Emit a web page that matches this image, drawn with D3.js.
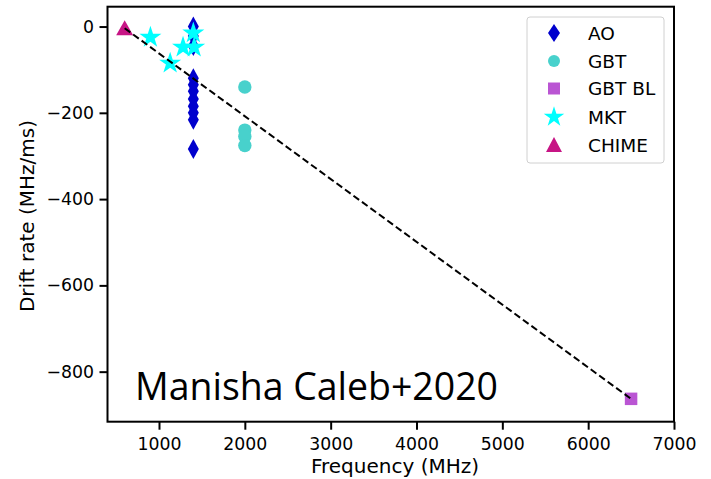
<!DOCTYPE html>
<html><head><meta charset="utf-8">
<script src="https://cdn.jsdelivr.net/npm/d3@7"></script>
<style>html,body{margin:0;padding:0;background:#fff;}svg{display:block;}</style>
</head><body>
<script>
// ---- data ----
const aoFreq  = [1400, 1400, 1400, 1400, 1400, 1400, 1400, 1400, 1400, 1400, 1400];
const aoDrift = [0, -22, -45, -120, -135, -150, -168, -185, -200, -216, -284];
const gbtFreq  = [2000, 2000, 2000, 2000];
const gbtDrift = [-140, -240, -255, -276];
const gbtblFreq  = [6500];
const gbtblDrift = [-863];
const mktFreq  = [900, 1130, 1280, 1400, 1410];
const mktDrift = [-25, -85, -48, -15, -48];
const chimeFreq  = [600];
const chimeDrift = [-4];
const lineFreq  = [600, 6500];
const lineDrift = [-4, -863];
const xTicks = [1000, 2000, 3000, 4000, 5000, 6000, 7000];
const yTicks = [0, -200, -400, -600, -800];
const xDomain = [400, 7000];
const yDomain = [46, -916];
const seriesNames = ["AO", "GBT", "GBT BL", "MKT", "CHIME"];
const seriesColors = ["#0000CD", "#48D1CC", "#BA55D3", "#00FFFF", "#C71585"];
const annotation = "Manisha Caleb+2020";

const W = 711, H = 479;
const L = 107.5, R = 674, T = 6.7, B = 421.7;
const svg = d3.select("body").append("svg").attr("width", W).attr("height", H);
const x = d3.scaleLinear().domain(xDomain).range([L, R]);
const y = d3.scaleLinear().domain(yDomain).range([T, B]);
const font = "DejaVu Sans, sans-serif";

// marker shapes
const thinDiamond = (w, h) => `M0,${-h/2}L${w/2},0L0,${h/2}L${-w/2},0Z`;
const shapes = {
  "AO": thinDiamond(11, 20),
  "GBT": d3.symbol(d3.symbolCircle, Math.PI * 6.7 * 6.7)(),
  "GBT BL": d3.symbol(d3.symbolSquare, 12.5 * 12.5)(),
  "MKT": d3.symbol(d3.symbolStar, 150)(),
  "CHIME": `M0,-8L8.5,7L-8.5,7Z`
};
const legendShapes = {
  "AO": thinDiamond(12, 18),
  "GBT": d3.symbol(d3.symbolCircle, Math.PI * 6 * 6)(),
  "GBT BL": d3.symbol(d3.symbolSquare, 12 * 12)(),
  "MKT": d3.symbol(d3.symbolStar, 130)(),
  "CHIME": `M0,-8L8,7L-8,7Z`
};

const series = [
  {name: "AO", f: aoFreq, d: aoDrift},
  {name: "GBT", f: gbtFreq, d: gbtDrift},
  {name: "GBT BL", f: gbtblFreq, d: gbtblDrift},
  {name: "MKT", f: mktFreq, d: mktDrift},
  {name: "CHIME", f: chimeFreq, d: chimeDrift}
];

const plot = svg.append("g");
series.forEach((s, i) => {
  plot.selectAll(null).data(s.f.map((f, j) => ({f, d: s.d[j]}))).enter()
    .append("path")
    .attr("d", shapes[s.name])
    .attr("transform", p => `translate(${x(p.f)},${y(p.d)})`)
    .attr("fill", seriesColors[i]);
});

// dashed line
plot.append("path")
  .datum(lineFreq.map((f, j) => [f, lineDrift[j]]))
  .attr("d", d3.line().x(p => x(p[0])).y(p => y(p[1])))
  .attr("fill", "none").attr("stroke", "#000").attr("stroke-width", 2)
  .attr("stroke-dasharray", "7,3.5");

// axes
const xAxis = svg.append("g").attr("transform", `translate(0,${B})`)
  .call(d3.axisBottom(x).tickValues(xTicks).tickSize(8).tickPadding(8.5).tickFormat(d3.format("d")));
const yAxis = svg.append("g").attr("transform", `translate(${L},0)`)
  .call(d3.axisLeft(y).tickValues(yTicks).tickSize(8).tickPadding(5.5).tickFormat(v => (v < 0 ? "\u2212" : "") + Math.abs(v)));
[xAxis, yAxis].forEach(a => {
  a.select(".domain").remove();
  a.selectAll(".tick line").attr("stroke", "#000").attr("stroke-width", 2);
  a.selectAll(".tick text").attr("font-family", font).attr("font-size", 17.3).attr("fill", "#000");
});

// frame
svg.append("rect").attr("x", L).attr("y", T).attr("width", R - L).attr("height", B - T)
  .attr("fill", "none").attr("stroke", "#000").attr("stroke-width", 2);

// axis labels
svg.append("text").attr("x", 395).attr("y", 473).attr("text-anchor", "middle")
  .attr("font-family", font).attr("font-size", 20).text("Frequency (MHz)");
svg.append("text").attr("transform", `translate(34,216) rotate(-90)`)
  .attr("text-anchor", "middle").attr("font-family", font).attr("font-size", 20)
  .text("Drift rate (MHz/ms)");

// annotation
svg.append("text").attr("x", 135).attr("y", 400)
  .attr("font-family", "Open Sans, Lato, sans-serif").attr("font-size", 38)
  .attr("textLength", 363).attr("lengthAdjust", "spacingAndGlyphs")
  .text(annotation);

// legend
const lg = svg.append("g");
lg.append("rect").attr("x", 527).attr("y", 17).attr("width", 137).attr("height", 146)
  .attr("rx", 3).attr("fill", "#fff").attr("stroke", "#d0d0d0").attr("stroke-width", 1);
const rowY = [33, 61, 88.5, 117, 145];
seriesNames.forEach((n, i) => {
  lg.append("path").attr("d", legendShapes[n])
    .attr("transform", `translate(554,${rowY[i]})`).attr("fill", seriesColors[i]);
  lg.append("text").attr("x", 588).attr("y", rowY[i]).attr("dy", "0.36em")
    .attr("font-family", font).attr("font-size", 18.5).text(n);
});
</script>
</body></html>
